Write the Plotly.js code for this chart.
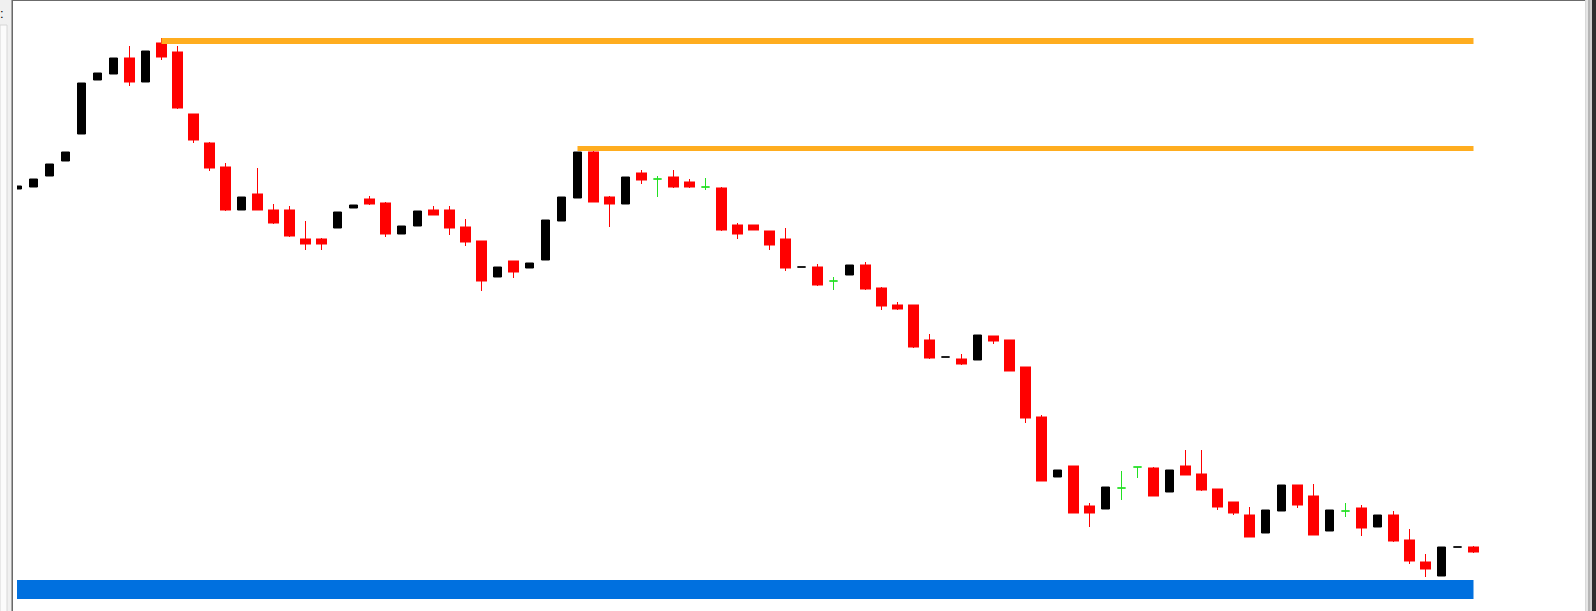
<!DOCTYPE html>
<html>
<head>
<meta charset="utf-8">
<script src="https://cdn.plot.ly/plotly-3.0.1.min.js"></script>
<style>
  html, body { margin: 0; padding: 0; background: #ffffff; overflow: hidden; }
  #chart { width: 1596px; height: 611px; }
</style>
</head>
<body>
<div id="chart"></div>
<script>
// ---- Data (price values, arbitrary price units) ----
const opens  = [422,424,435,450,477,531,537,552,529,567,558,496,467,443,401,416,400,400,371,371,
                383,403,411,407,377,385,400,400,383,369,334,349,343,351,390,413,458,413,407,437,
                432,433,428,424,422,385,385,379,371,344,343,330,336,345,322,305,305,270,254,251,
                251,274,270,243,193,134,144,104,102,123,144,142,119,144,136,121,108,95,78,100,
                125,114,80,100,102,84,95,70,48,35,64,63];
const highs  = [425,432,447,459,528,538,553,565,560,573,565,496,469,448,414,443,407,405,390,373,
                399,406,415,409,385,400,405,405,392,369,344,349,348,391,414,459,464,415,434,441,
                435,441,432,433,424,388,385,379,383,344,347,334,346,349,324,309,305,277,254,257,
                276,274,270,243,196,141,144,108,124,140,144,144,141,161,161,121,108,104,101,126,
                125,127,101,108,106,96,100,82,57,64,64,65];
const lows   = [422,424,435,450,477,531,537,525,529,551,502,468,440,400,401,402,387,374,361,361,
                383,403,406,374,377,385,397,376,365,320,334,333,343,351,390,413,410,384,407,427,
                414,423,423,421,380,372,382,361,340,344,325,321,336,321,301,301,263,252,254,246,
                251,267,241,188,130,134,99,84,102,111,133,116,119,137,120,101,96,75,78,100,
                103,77,80,94,75,84,69,47,34,35,64,58];
const closes = [425,432,447,459,528,538,553,530,560,555,504,472,444,402,414,402,389,376,368,368,
                399,406,408,378,385,400,397,384,370,331,344,340,348,391,414,459,410,408,434,432,
                432,425,425,424,382,378,382,367,344,344,327,330,346,323,306,303,265,254,254,248,
                276,271,241,194,131,141,99,99,124,123,144,116,141,137,122,105,99,75,101,126,
                107,77,101,100,84,96,71,51,43,64,64,60];

// horizontal levels (price) and the bar index where each starts
const resistanceLevels = [570, 462.5];
const resistanceStart  = [9, 35];
const supportLevel     = 21.5;

// ---- Split bars by kind ----
const idx = opens.map((_, i) => i);
const last = opens.length - 1;
const upIdx   = idx.filter(i => closes[i] > opens[i] || (closes[i] === opens[i] && highs[i] === lows[i]));
const downIdx = idx.filter(i => closes[i] < opens[i]);
const dojiIdx = idx.filter(i => closes[i] === opens[i] && highs[i] !== lows[i]);
const pick = (arr, ids) => ids.map(i => arr[i]);

const BLACK = '#000000', RED = '#ff0000', GREEN = '#22e022';
function candle(ids, o, h, l, c, color, width) {
  const side = { line: { color: color, width: width }, fillcolor: color };
  return {
    type: 'candlestick', x: ids, open: o, high: h, low: l, close: c,
    increasing: side, decreasing: side, whiskerwidth: 0,
    hoverinfo: 'skip', showlegend: false
  };
}

const traces = [];
// bullish bars (black bodies)
traces.push(candle(upIdx, pick(opens, upIdx), pick(highs, upIdx), pick(lows, upIdx), pick(closes, upIdx), BLACK, 1));
// bearish bars: thin wicks
traces.push(candle(downIdx, pick(opens, downIdx), pick(highs, downIdx), pick(lows, downIdx), pick(closes, downIdx), RED, 1));
// bearish bars: wider bodies
traces.push(candle(downIdx, pick(opens, downIdx),
  downIdx.map(i => Math.max(opens[i], closes[i])),
  downIdx.map(i => Math.min(opens[i], closes[i])),
  pick(closes, downIdx), RED, 3));
// doji crosses
traces.push(candle(dojiIdx, pick(opens, dojiIdx), pick(highs, dojiIdx), pick(lows, dojiIdx), pick(closes, dojiIdx), GREEN, 1));

// resistance lines
resistanceLevels.forEach((lv, k) => {
  traces.push({
    type: 'scatter', mode: 'lines', x: [resistanceStart[k], last], y: [lv, lv],
    line: { color: '#ffad1f', width: k === 0 ? 6 : 5 }, hoverinfo: 'skip', showlegend: false
  });
});
// support band
traces.push({
  type: 'scatter', mode: 'lines', x: [-1, last], y: [supportLevel, supportLevel],
  line: { color: '#0070df', width: 19 }, hoverinfo: 'skip', showlegend: false
});

// ---- frame (window chrome) drawn as paper shapes ----
const L = 17, R = 11, W = 1596, H = 611, PW = W - L - R;
const px = x => (x - L) / PW;
const py = y => 1 - y / H;
function box(x0, x1, y0, y1, fill, lineColor) {
  return { type: 'rect', xref: 'paper', yref: 'paper', layer: 'above',
    x0: px(x0), x1: px(x1), y0: py(y1), y1: py(y0),
    fillcolor: fill, line: { width: lineColor ? 1 : 0, color: lineColor || fill } };
}
const shapes = [
  box(0, 12, 0, 611, '#f0f0f0'),
  box(0, 7, 25, 615, '#fbfbfb', '#d6d6d6'),
  box(11, 12, 0, 611, '#a9a9a9'),
  box(12, 13, 0, 611, '#696969'),
  box(12, 1586, 0, 1, '#6b6b6b'),
  box(1585, 1586, 0, 611, '#d9d9d9'),
  box(1586, 1588, 0, 611, '#e6e6e6'),
  box(1588, 1590, 0, 611, '#b6b6b6'),
  box(1590, 1592, 0, 611, '#d0d0d0'),
  box(1592, 1596, 0, 611, '#2e2e2e')
];

const layout = {
  width: W, height: H,
  margin: { l: L, r: R, t: 0, b: 0, pad: 0 },
  paper_bgcolor: '#ffffff', plot_bgcolor: '#ffffff',
  showlegend: false,
  boxgap: 0.5, boxgroupgap: 0,
  xaxis: { range: [-1 / 32, PW / 16 - 1 / 32], visible: false, showgrid: false, zeroline: false,
           rangeslider: { visible: false }, fixedrange: true },
  yaxis: { range: [0, H], visible: false, showgrid: false, zeroline: false, fixedrange: true },
  shapes: shapes,
  annotations: [{
    xref: 'paper', yref: 'paper', x: px(-2), y: py(13), xanchor: 'left', yanchor: 'middle',
    text: ':', showarrow: false, font: { family: 'Liberation Sans, Arial', size: 13, color: '#000000' }
  }]
};

Plotly.newPlot('chart', traces, layout, { displayModeBar: false, staticPlot: true });
</script>
</body>
</html>
